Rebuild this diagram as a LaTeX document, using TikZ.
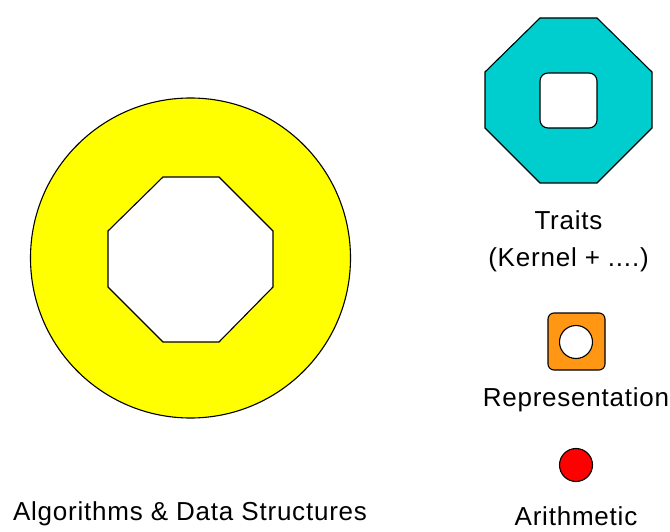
\documentclass[tikz,border=0pt]{standalone}
\usepackage{fontspec}
\setmainfont{Liberation Sans}
\usetikzlibrary{positioning}
\definecolor{lemon}{RGB}{255,255,0}
\definecolor{teal}{RGB}{0,206,206}
\definecolor{tangerine}{RGB}{255,150,20}
\definecolor{scarlet}{RGB}{255,0,0}
\tikzset{
  part/.style={draw=black,line width=1.1pt,fill=#1},
  part/.default=lemon,
  hole/.style={part=white},
  caption/.style={font=\fontsize{26}{37}\selectfont\addfontfeature{LetterSpace=3},align=center,inner sep=0pt},
}
\begin{document}
\begin{tikzpicture}[x=1pt,y=-1pt]
  \useasboundingbox (0,0) rectangle (670,532);
  % algorithms & data structures
  \node[part,circle,minimum size=320pt,inner sep=0pt] (algo) at (190.5,258) {};
  \draw[hole] (163,177) -- (219,177) -- (273,231) -- (273,287) -- (219,342)
    -- (163,342) -- (108,287) -- (108,231) -- cycle;
  \node[caption] (algolbl) at (190,514) {Algorithms \& Data Structures};
  % traits
  \draw[part=teal,even odd rule] (540,18) -- (597,18) -- (652,72) -- (652,128)
    -- (597,183) -- (540,183) -- (485,128) -- (485,72) -- cycle
    [rounded corners=8pt] (540,73) rectangle (597,128);
  \node[caption] (traitslbl) at (568.5,241) {Traits\\(Kernel + ....)};
  % representation
  \draw[part=tangerine,even odd rule,rounded corners=6pt] (548,313) rectangle (605,370)
    [sharp corners] (576,342) circle (16.5);
  \node[caption] (replbl) at (576,400) {Representation};
  % arithmetic
  \node[part=scarlet,circle,minimum size=33pt,inner sep=0pt] (arith) at (576,465) {};
  \node[caption] (arithlbl) at (576,516) {Arithmetic};
\end{tikzpicture}
\end{document}
